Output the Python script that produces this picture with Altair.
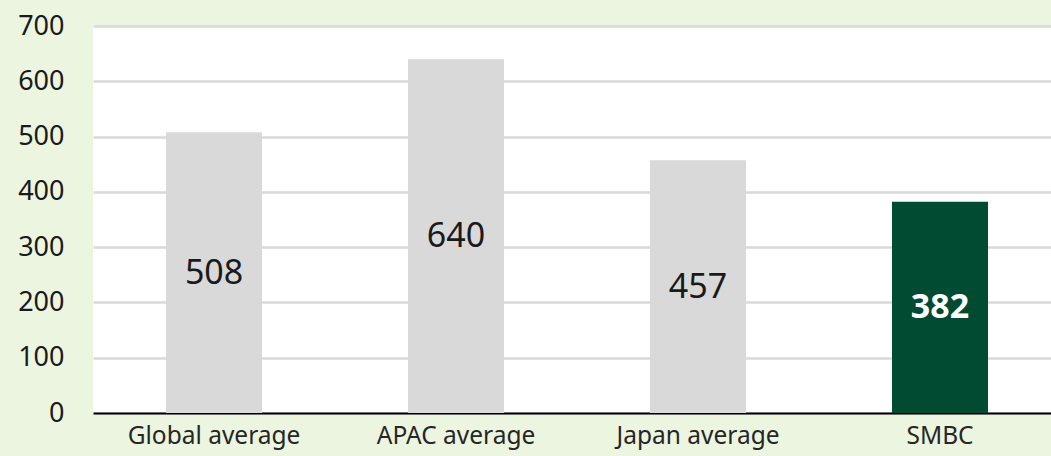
import altair as alt
import pandas as pd

categories = ["Global average", "APAC average", "Japan average", "SMBC"]
values = [508, 640, 457, 382]
highlight = "SMBC"

df = pd.DataFrame({"category": categories, "value": values})

FONT = "Noto Sans"
GRAY = "#d9d9d9"
GREEN = "#004b32"

x = alt.X("category:N", sort=categories, title=None,
          scale=alt.Scale(paddingInner=0.603, paddingOuter=0.281, align=0.537),
          axis=alt.Axis(labelAngle=0, labelFontSize=24.5, labelFont=FONT, labelColor="#262626",
                        ticks=False, domainColor="#000000", domainWidth=2,
                        labelPadding=11, grid=False))
y = alt.Y("value:Q", title=None,
          scale=alt.Scale(domain=[0, 700], nice=False),
          axis=alt.Axis(values=list(range(0, 701, 100)), labelFontSize=27, labelFont=FONT,
                        labelColor="#1a1a1a", ticks=False, domain=False,
                        gridColor=GRAY, gridWidth=2.5, labelPadding=29))

base = alt.Chart(df)

bars = base.mark_bar(size=96).encode(
    x=x, y=y,
    color=alt.condition(alt.datum.category == highlight, alt.value(GREEN), alt.value(GRAY)),
)

labels_gray = base.transform_filter(alt.datum.category != highlight).transform_calculate(
    mid="datum.value / 2").mark_text(font=FONT, fontSize=34, color="#1a1a1a", baseline="middle", dy=1).encode(
    x=alt.X("category:N", sort=categories), y=alt.Y("mid:Q"), text=alt.Text("value:Q"))

labels_hl = base.transform_filter(alt.datum.category == highlight).transform_calculate(
    mid="datum.value / 2").mark_text(font=FONT, fontSize=34, fontWeight="bold", color="#ffffff",
                                     baseline="middle", dy=1).encode(
    x=alt.X("category:N", sort=categories), y=alt.Y("mid:Q"), text=alt.Text("value:Q"))

chart = alt.layer(bars, labels_gray, labels_hl).properties(
    width=958, height=387,
    background="#ebf5e0",
    autosize=alt.AutoSizeParams(type="none"),
    padding={"left": 93, "top": 26, "right": 0, "bottom": 43},
).configure_view(fill="#ffffff", stroke=None)

chart.save("out.html", embed_options={"renderer": "svg", "actions": False})
